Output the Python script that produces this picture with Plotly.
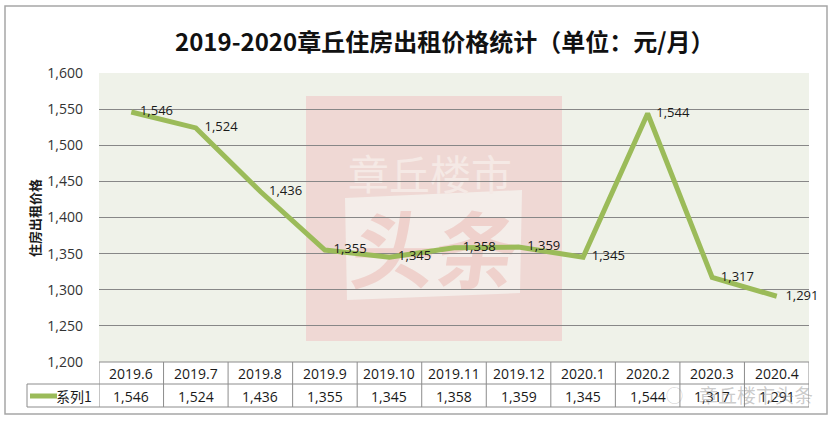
import base64
import plotly.graph_objects as go

categories = ["2019.6", "2019.7", "2019.8", "2019.9", "2019.10", "2019.11",
              "2019.12", "2020.1", "2020.2", "2020.3", "2020.4"]
values = [1546, 1524, 1436, 1355, 1345, 1358, 1359, 1345, 1544, 1317, 1291]
series_name = "系列1"
title_text = "2019-2020章丘住房出租价格统计（单位：元/月）"
y_title = "住房出租价格"
y_ticks = [1200, 1250, 1300, 1350, 1400, 1450, 1500, 1550, 1600]
Y_MIN, Y_MAX = 1200, 1600

W, H = 834, 422
ML, MR, MT, MB = 99, 25, 73, 60
PW, PH = W - ML - MR, H - MT - MB
n = len(categories)

def px(x):
    return (x - ML) / PW

def py(y):
    return (H - MB - y) / PH

def dx(x):  # pixel -> category index
    return (x - ML) / PW * n - 0.5

def dy(y):  # pixel -> y data
    return Y_MAX - (y - MT) / PH * (Y_MAX - Y_MIN)

NUM_FONT = "Open Sans, Noto Sans CJK SC, sans-serif"
CJK_FONT = "Noto Sans CJK SC, sans-serif"
LINE_COLOR = "#9BBB59"
GRID = "#878787"
TABLE = "#8C8C8C"

# watermark as an SVG image (decoration)
wm_w, wm_h = 256, 245
svg = f'''<svg xmlns="http://www.w3.org/2000/svg" width="{wm_w}" height="{wm_h}" viewBox="0 0 {wm_w} {wm_h}">
<rect x="0" y="0" width="{wm_w}" height="{wm_h}" fill="#EFD8D4"/>
<polygon points="39,102 216,94 214,197 41,204" fill="#F4EDE9"/>
<text x="124" y="94" text-anchor="middle" font-family="Noto Sans CJK SC" font-size="41" fill="#F5E9E5">章丘楼市</text>
<text x="128" y="186" text-anchor="middle" font-family="Noto Sans CJK SC" font-weight="bold" font-size="84" fill="#EFD1CC" transform="skewX(-8) translate(24,0)">头条</text>
</svg>'''
wm_src = "data:image/svg+xml;base64," + base64.b64encode(svg.encode("utf-8")).decode("ascii")

fig = go.Figure()

fig.add_trace(go.Scatter(
    x=categories, y=values, mode="lines+text",
    line=dict(color=LINE_COLOR, width=5),
    text=["\u2002\u2009" + f"{v:,}" for v in values],
    textposition="middle right",
    textfont=dict(family=NUM_FONT, size=13, color="#1a1a1a"),
    name=series_name, showlegend=False, cliponaxis=False,
))

shapes = []
# outer border
shapes.append(dict(type="rect", xref="paper", yref="paper",
                   x0=px(5), x1=px(827), y0=py(6), y1=py(414),
                   line=dict(color="#A6A6A6", width=1.5)))
# table lines
shapes.append(dict(type="line", xref="paper", yref="paper",
                   x0=px(27), x1=1, y0=py(384), y1=py(384), line=dict(color=TABLE, width=1)))
shapes.append(dict(type="line", xref="paper", yref="paper",
                   x0=px(27), x1=1, y0=py(407), y1=py(407), line=dict(color=TABLE, width=1)))
shapes.append(dict(type="line", xref="paper", yref="paper",
                   x0=px(27), x1=px(27), y0=py(384), y1=py(407), line=dict(color=TABLE, width=1)))
shapes.append(dict(type="line", xref="paper", yref="paper",
                   x0=0, x1=1, y0=0, y1=0, line=dict(color=TABLE, width=1)))
for i in range(n + 1):
    shapes.append(dict(type="line", xref="x", yref="paper",
                       x0=i - 0.5, x1=i - 0.5, y0=0, y1=py(407),
                       line=dict(color=TABLE, width=1)))
# legend sample
shapes.append(dict(type="line", xref="paper", yref="paper",
                   x0=px(30), x1=px(57), y0=py(396), y1=py(396),
                   line=dict(color=LINE_COLOR, width=5)))

def ann(x, y, text, font, xref="paper", **kw):
    d = dict(xref=xref, yref="paper", x=x, y=y, text=text, showarrow=False,
             xanchor=kw.pop("xanchor", "center"), yanchor="middle", font=font)
    d.update(kw)
    return d

annotations = []
for i, (c, v) in enumerate(zip(categories, values)):
    annotations.append(ann(i, py(373), c, dict(family=NUM_FONT, size=14, color="#1a1a1a"), xref="x"))
    annotations.append(ann(i, py(396), f"{v:,}", dict(family=NUM_FONT, size=14, color="#1a1a1a"), xref="x"))
annotations.append(ann(px(94), py(396), series_name,
                       dict(family=CJK_FONT, size=14, color="#1a1a1a"), xanchor="right"))
annotations.append(ann(px(34), py(218), "<b>" + y_title + "</b>",
                       dict(family=CJK_FONT, size=13, color="#1a1a1a"), textangle=-90))
annotations.append(ann(px(444), py(40), "<b>" + title_text + "</b>",
                       dict(family=CJK_FONT, size=24, color="#111111")))
# corner watermark
annotations.append(ann(px(756), py(394), "章丘楼市头条",
                       dict(family=CJK_FONT, size=19, color="rgba(140,140,140,0.45)")))
annotations.append(ann(px(674), py(394), "◯",
                       dict(family=CJK_FONT, size=17, color="rgba(140,140,140,0.45)")))

fig.update_layout(
    width=W, height=H,
    margin=dict(l=ML, r=MR, t=MT, b=MB),
    paper_bgcolor="white", plot_bgcolor="#EFF2E9",
    shapes=shapes, annotations=annotations,
    images=[dict(source=wm_src, xref="x", yref="y",
                 x=dx(306), y=dy(96), sizex=dx(562) - dx(306), sizey=dy(96) - dy(341),
                 xanchor="left", yanchor="top", sizing="stretch", layer="below")],
    xaxis=dict(type="category", range=[-0.5, n - 0.5], showticklabels=False,
               showgrid=False, zeroline=False, showline=False, fixedrange=True),
    yaxis=dict(range=[Y_MIN, Y_MAX], tickvals=y_ticks, tickformat=",",
               showgrid=True, gridcolor=GRID, gridwidth=1, zeroline=False,
               showline=False, ticks="", ticklabelstandoff=15,
               tickfont=dict(family=NUM_FONT, size=14, color="#333333")),
    showlegend=False,
)

fig.write_html("out.html", config={"displayModeBar": False},
               post_script="document.body.style.margin='0';")
